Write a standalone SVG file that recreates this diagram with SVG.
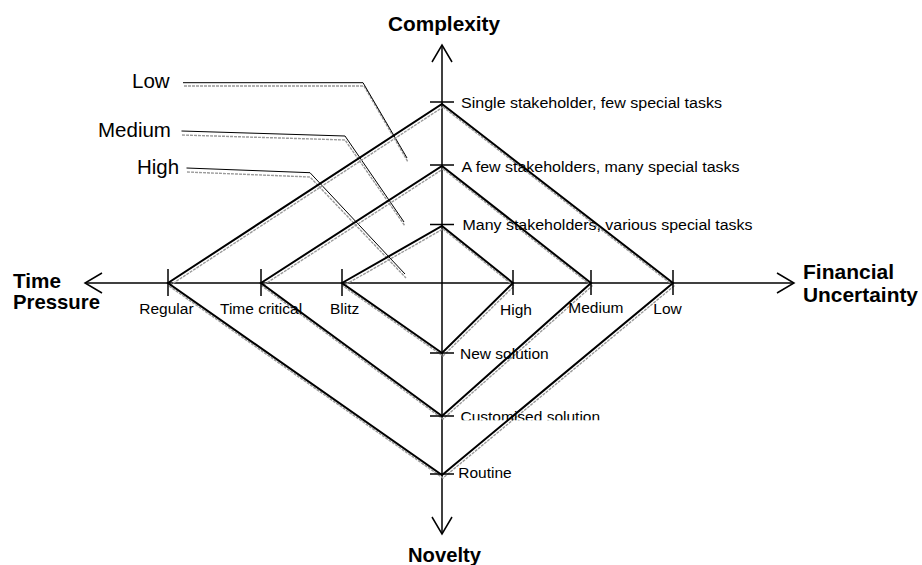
<svg xmlns="http://www.w3.org/2000/svg" width="922" height="565" viewBox="0 0 922 565">
<style>
.ax{stroke:#000;stroke-width:1.5;fill:none}
.tk{stroke:#000;stroke-width:1.5}
.dm{stroke:#000;stroke-width:2;fill:none;stroke-linejoin:miter}
.sh{stroke:#9a9a9a;stroke-width:1.4;fill:none;stroke-dasharray:3 1}
.ld{stroke:#000;stroke-width:1;fill:none}
.t{font-family:"Liberation Sans",Arial,sans-serif;font-size:15.5px;fill:#000}
.b{font-family:"Liberation Sans",Arial,sans-serif;font-size:20.5px;font-weight:bold;fill:#000}
.r{font-family:"Liberation Sans",Arial,sans-serif;font-size:20.5px;fill:#000}
</style>
<defs>
<clipPath id="cclip"><rect x="455" y="400" width="200" height="20.3"/></clipPath>
</defs>
<rect width="922" height="565" fill="#fff"/>
<g id="connectors">
<g id="leaders">
<polyline class="sh" points="184,86 364,86 408,162"/>
<polyline class="ld" points="183,82.7 363,82.7 407,158"/>
<polyline class="sh" points="182,135 345,140 405,226"/>
<polyline class="ld" points="181.5,131 345,136 404,222"/>
<polyline class="sh" points="187,172 310,177 406,278"/>
<polyline class="ld" points="186.5,168 310,172.7 405,274"/>
</g>
<g id="axes">
<line class="ax" x1="85" y1="283" x2="794" y2="283"/>
<line class="ax" x1="442" y1="45" x2="442" y2="533"/>
<polyline class="ax" points="102,273 85,283 102,293"/>
<polyline class="ax" points="777,273 794,283 777,293"/>
<polyline class="ax" points="432,62 442,45 452,62"/>
<polyline class="ax" points="432,517 442,534 452,517"/>
</g>
</g>
<g id="diamond-low">
<polygon class="sh" points="443,107 674,286 443,478 169,286"/>
<polygon class="dm" points="442,104 673,283 442,475 168,283"/>
</g>
<g id="diamond-medium">
<polygon class="sh" points="443,169 592,286 443,419 262,286"/>
<polygon class="dm" points="442,166 591,283 442,416 261,283"/>
</g>
<g id="diamond-high">
<polygon class="sh" points="443,229 514,286 443,356 343,286"/>
<polygon class="dm" points="442,226 513,283 442,353 342,283"/>
</g>
<g id="ticks">
<line class="tk" x1="430" y1="102" x2="454" y2="102"/>
<line class="tk" x1="430" y1="165" x2="454" y2="165"/>
<line class="tk" x1="430" y1="224.5" x2="454" y2="224.5"/>
<line class="tk" x1="430" y1="353" x2="454" y2="353"/>
<line class="tk" x1="430" y1="416" x2="454" y2="416"/>
<line class="tk" x1="430" y1="474" x2="454" y2="474"/>
<line class="tk" x1="168" y1="269" x2="168" y2="296"/>
<line class="tk" x1="261" y1="269" x2="261" y2="296"/>
<line class="tk" x1="342" y1="269" x2="342" y2="296"/>
<line class="tk" x1="513" y1="270" x2="513" y2="295"/>
<line class="tk" x1="591" y1="270" x2="591" y2="295"/>
<line class="tk" x1="673" y1="270" x2="673" y2="295"/>
</g>
<g id="titles">
<text class="b" x="388" y="31" textLength="112" lengthAdjust="spacingAndGlyphs">Complexity</text>
<text class="b" x="408" y="561.5" textLength="73" lengthAdjust="spacingAndGlyphs">Novelty</text>
<text class="b" x="13" y="287.5" textLength="48" lengthAdjust="spacingAndGlyphs">Time</text>
<text class="b" x="13" y="308.5" textLength="87" lengthAdjust="spacingAndGlyphs">Pressure</text>
<text class="b" x="803" y="278.5" textLength="91" lengthAdjust="spacingAndGlyphs">Financial</text>
<text class="b" x="803" y="302" textLength="115" lengthAdjust="spacingAndGlyphs">Uncertainty</text>
</g>
<g id="level-labels">
<text class="r" x="132" y="88.3">Low</text>
<text class="r" x="98" y="136.5">Medium</text>
<text class="r" x="137" y="174">High</text>
</g>
<g id="tick-labels">
<text class="t" x="461" y="107.5" textLength="261" lengthAdjust="spacingAndGlyphs">Single stakeholder, few special tasks</text>
<text class="t" x="461.5" y="171.5" textLength="278" lengthAdjust="spacingAndGlyphs">A few stakeholders, many special tasks</text>
<text class="t" x="462.5" y="230" textLength="290" lengthAdjust="spacingAndGlyphs">Many stakeholders, various special tasks</text>
<text class="t" x="460" y="359.3">New solution</text>
<text class="t" x="460.5" y="421.7" clip-path="url(#cclip)">Customised solution</text>
<text class="t" x="458.3" y="478.3">Routine</text>
<text class="t" x="139.3" y="314">Regular</text>
<text class="t" x="220" y="314">Time critical</text>
<text class="t" x="330" y="314">Blitz</text>
<text class="t" x="500" y="315">High</text>
<text class="t" x="568.3" y="312.7">Medium</text>
<text class="t" x="653.3" y="314">Low</text>
</g>
</svg>
